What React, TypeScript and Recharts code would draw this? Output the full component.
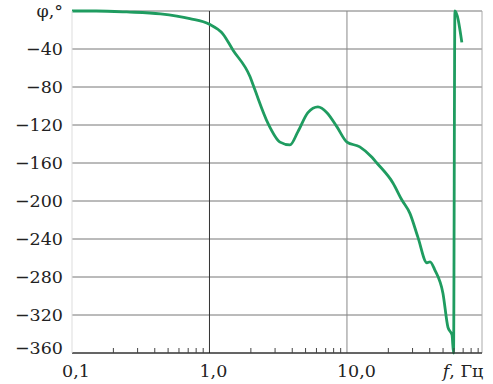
import { LineChart, Line, XAxis, YAxis, CartesianGrid, ReferenceLine } from "recharts";

// frequency, Hz (log axis) and phase, degrees
const freq = [
  0.1, 0.15, 0.25, 0.44, 0.72, 1.0, 1.25, 1.48, 1.97, 2.14, 2.66, 3.26, 3.85, 4.4, 5.2, 6.15, 7.15,
  8.46, 10, 12.4, 15.2, 16.5, 21.6, 25.1, 28.7, 32.8, 38.2, 40.2, 43.7, 49.9, 54.3, 58.1, 59.6, 61,
  68.5,
];
const phase = [
  0, 0, -1, -3, -8, -14, -24, -41, -69, -83, -118, -138, -141, -127, -107, -101, -107, -122, -138,
  -143, -154, -160, -181, -199, -213, -238, -265, -264, -273, -297, -333, -341, -360, 0, -33,
];

const yTicks = [-360, -320, -280, -240, -200, -160, -120, -80, -40, 0];
const yTopLabel = "φ,°";
const majorX = [0.1, 1, 10];
const majorXLabels = ["0,1", "1,0", "10,0"];
const minorX = [
  0.2, 0.3, 0.4, 0.5, 0.6, 0.7, 0.8, 0.9, 2, 3, 4, 5, 6, 7, 8, 9, 20, 30, 40, 50, 60, 70, 80, 90,
];
const unitX = 72;
const xMax = 96;

const data = freq.map((f, i) => ({ f, phi: phase[i] }));

const FONT = "'DejaVu Serif'";
const FS = 17.5;
const textStyle = { fontFamily: FONT, fontSize: FS };

function XTick(props: any) {
  const { x, y, payload } = props;
  const v = payload.value;
  const i = majorX.indexOf(v);
  if (i >= 0) {
    return (
      <text x={x - 10} y={y + 24} style={textStyle} fill="#222">
        {majorXLabels[i]}
      </text>
    );
  }
  if (v === unitX) {
    return (
      <text x={x - 22} y={y + 24} style={textStyle} fill="#222">
        <tspan style={{ fontStyle: "italic" }}>f</tspan>, Гц
      </text>
    );
  }
  return <line x1={x} x2={x} y1={y} y2={y - 5} stroke="#444" strokeWidth={1} />;
}

function YTick(props: any) {
  const { x, y, payload } = props;
  const v = payload.value;
  const label = v === 0 ? yTopLabel : `\u2212${-v}`;
  const dy = v === -360 ? -5 : 0;
  return (
    <text x={x} y={y + dy} textAnchor="end" dominantBaseline="central" style={textStyle} fill="#222">
      {label}
    </text>
  );
}

export default function App() {
  return (
    <div style={{ position: "absolute", left: 0, top: 0 }}>
      <LineChart width={493} height={384} data={data} margin={{ top: 11, right: 11, bottom: 0, left: 0 }}>
        <CartesianGrid vertical={false} stroke="#777" />
        <XAxis
          dataKey="f"
          type="number"
          scale="log"
          domain={[0.1, xMax]}
          allowDataOverflow
          ticks={[...majorX, ...minorX, unitX]}
          interval={0}
          tick={XTick}
          tickLine={false}
          tickSize={0}
          tickMargin={0}
          height={31}
          axisLine={{ stroke: "#111" }}
        />
        <YAxis
          type="number"
          domain={[-360, 0]}
          ticks={yTicks}
          interval={0}
          tick={YTick}
          tickLine={false}
          tickSize={0}
          tickMargin={9}
          width={72}
          axisLine={{ stroke: "#ddd" }}
        />
        <ReferenceLine x={1} stroke="#333" />
        <ReferenceLine x={10} stroke="#888" />
        <ReferenceLine x={xMax} stroke="#aaa" />
        <Line
          dataKey="phi"
          type="monotone"
          stroke="#1f9c60"
          strokeWidth={2.8}
          dot={false}
          isAnimationActive={false}
        />
      </LineChart>
    </div>
  );
}
